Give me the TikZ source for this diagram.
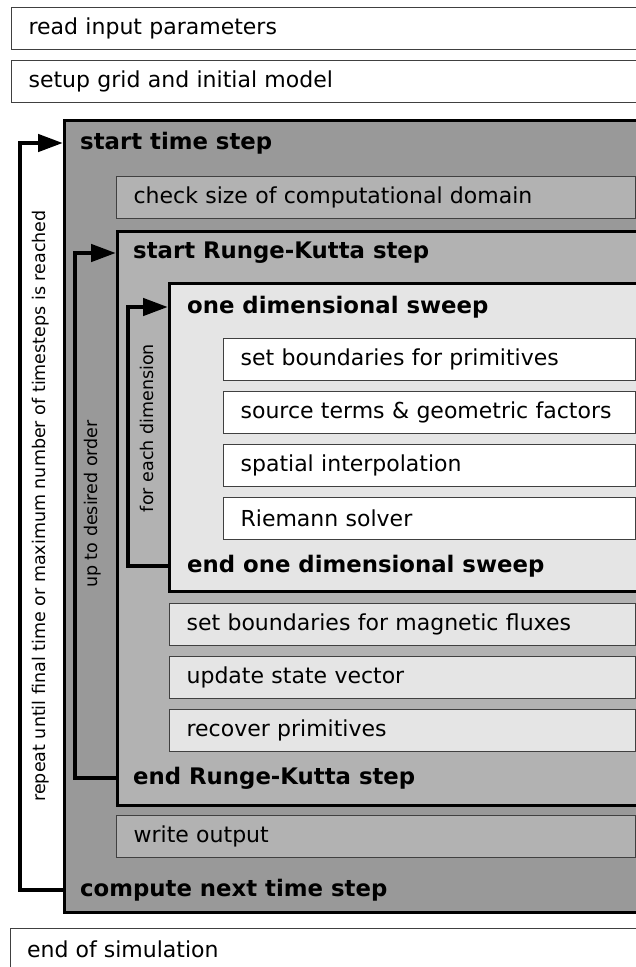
\documentclass[tikz,border=0pt]{standalone}
\usepackage{fontspec}
\setmainfont{DejaVu Sans}
\usepackage{tikz}
\usetikzlibrary{positioning}
\usetikzlibrary{arrows.meta}

\definecolor{timegray}{gray}{0.6}
\definecolor{rkgray}{gray}{0.7}
\definecolor{sweepgray}{gray}{0.9}
\definecolor{edgegray}{gray}{0.25}

\tikzset{
  bigbox/.style={draw=black, line width=2.5pt, rectangle, anchor=north west, inner sep=0pt},
  stepbox/.style={draw=edgegray, line width=1.2pt, rectangle, anchor=north west, minimum height=42pt,
    inner xsep=17pt, text width=#1, align=left, font=\fontsize{22}{26}\selectfont},
  title/.style={anchor=west, inner sep=0pt, font=\fontsize{22.8}{26}\selectfont\bfseries},
  looptext/.style={rotate=90, inner sep=0pt, font=\fontsize{17.5}{21}\selectfont},
  loopline/.style={line width=4.5pt, -{Triangle[length=25pt,width=17pt]}}
}

\begin{document}
\begin{tikzpicture}[x=1pt, y=-1pt]
            \clip (0,0) rectangle (636,967);

            % before the time loop
            \node[stepbox=615, fill=white] (readpar) at (11,7) {read input parameters};
            \node[stepbox=615, fill=white] (setup) at (11,60) {setup grid and initial model};

            % time step
            \node[bigbox, fill=timegray, minimum width=600, minimum height=792] (tsBox) at (63,119) {};
            \node[title] (tsStart) at (80,143) {start time step};
            \node[stepbox=485, fill=rkgray] (domain) at (116,176) {check size of computational domain};

            % Runge-Kutta step
            \node[bigbox, fill=rkgray, minimum width=550, minimum height=574] (rkBox) at (116,230) {};
            \node[title] (rkStart) at (133,253) {start Runge-Kutta step};

            % one dimensional sweep
            \node[bigbox, fill=sweepgray, minimum width=500, minimum height=308] (swBox) at (168,282) {};
            \node[title] (swStart) at (187,307) {one dimensional sweep};
            \node[stepbox=378, fill=white] (bound) at (223,338) {set boundaries for primitives};
            \node[stepbox=378, fill=white] (source) at (223,391) {source terms \& geometric factors};
            \node[stepbox=378, fill=white] (interp) at (223,444) {spatial interpolation};
            \node[stepbox=378, fill=white] (riemann) at (223,497) {Riemann solver};
            \node[title] (swEnd) at (187,566) {end one dimensional sweep};

            \node[stepbox=432, fill=sweepgray] (magflux) at (169,603) {set boundaries for magnetic fluxes};
            \node[stepbox=432, fill=sweepgray] (update) at (169,656) {update state vector};
            \node[stepbox=432, fill=sweepgray] (recover) at (169,709) {recover primitives};
            \node[title] (rkEnd) at (133,778) {end Runge-Kutta step};

            \node[stepbox=485, fill=rkgray] (output) at (116,815) {write output};
            \node[title] (tsEnd) at (80,890) {compute next time step};

            % after the time loop
            \node[stepbox=616, fill=white, minimum height=60pt] (endsim) at (10,928) {};
            \node[anchor=west, inner sep=0pt, font=\fontsize{22}{26}\selectfont] (endtext) at (27,949) {end of simulation};

            % loops
            \coordinate (tsLoop) at (20,0);
            \coordinate (rkLoop) at (75,0);
            \coordinate (swLoop) at (128,0);
            \draw[loopline] (tsBox.west |- tsEnd) -- (tsLoop |- tsEnd) -- (tsLoop |- tsStart) -- (tsBox.west |- tsStart);
            \draw[loopline] (rkBox.west |- rkEnd) -- (rkLoop |- rkEnd) -- (rkLoop |- rkStart) -- (rkBox.west |- rkStart);
            \draw[loopline] (swBox.west |- swEnd) -- (swLoop |- swEnd) -- (swLoop |- swStart) -- (swBox.west |- swStart);

            \node[looptext] (tsLabel) at (41,506) {repeat until final time or maximum number of timesteps is reached};
            \node[looptext] (rkLabel) at (93,504) {up to desired order};
            \node[looptext] (swLabel) at (147,428) {for each dimension};
        \end{tikzpicture}
\end{document}
